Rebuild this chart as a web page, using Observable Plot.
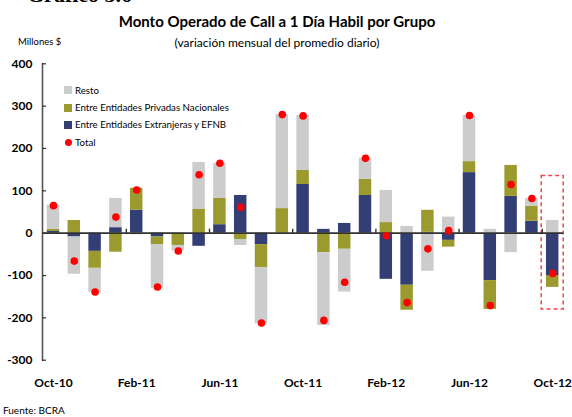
<!DOCTYPE html>
<html>
<head>
<meta charset="utf-8">
<script src="https://cdn.jsdelivr.net/npm/d3@7"></script>
<script src="https://cdn.jsdelivr.net/npm/@observablehq/plot@0.6"></script>
<style>
  html, body { margin: 0; padding: 0; background: #fff; }
  #wrap { position: relative; width: 572px; height: 417px; overflow: hidden; font-family: Lato, "Open Sans", sans-serif; color: #000; }
  #wrap svg { position: absolute; left: 0; top: 0; }
  .abs { position: absolute; white-space: nowrap; line-height: 1; }
  .leg { position: absolute; left: 64px; font-size: 9.7px; }
  .leg span.sw { display: inline-block; width: 8px; height: 8px; margin-right: 3px; vertical-align: -0.5px; }
  .leg span.dt { display: inline-block; width: 7px; height: 7px; border-radius: 50%; background: #ff0000; margin-right: 3px; margin-left: 1px; vertical-align: 0px; }
</style>
</head>
<body>
<div id="wrap">
  <div class="abs" style="left:27px; top:-16px; font-family:'Liberation Serif', serif; font-weight:bold; font-size:22px;">Gráfico 3.6</div>
  <div class="abs" style="left:0; width:554px; text-align:center; top:14px; font-weight:bold; font-size:15px;">Monto Operado de Call a 1 Día Habil por Grupo</div>
  <div class="abs" style="left:0; width:554px; text-align:center; top:37px; font-size:12px;">(variación mensual del promedio diario)</div>
  <div class="abs" style="left:18px; top:37px; font-size:9.5px;">Millones $</div>
  <div class="abs" style="left:3px; top:405px; font-size:10px;">Fuente: BCRA</div>
  <div class="leg" style="top:83.5px;"><span class="sw" style="background:#cccccc"></span>Resto</div>
  <div class="leg" style="top:101px;"><span class="sw" style="background:#9a9a2e"></span>Entre Entidades Privadas Nacionales</div>
  <div class="leg" style="top:118px;"><span class="sw" style="background:#333f74"></span>Entre Entidades Extranjeras y EFNB</div>
  <div class="leg" style="top:135.5px;"><span class="dt"></span>Total</div>
</div>
<script>
const months = ["Oct-10","Nov-10","Dec-10","Jan-11","Feb-11","Mar-11","Apr-11","May-11","Jun-11","Jul-11","Aug-11","Sep-11",
  "Oct-11","Nov-11","Dec-11","Jan-12","Feb-12","Mar-12","Apr-12","May-12","Jun-12","Jul-12","Aug-12","Sep-12","Oct-12"];
const extranjeras = [4, -9, -43, 13, 54, -9, 0, -31, 20, 89, -27, 0, 115, 9, 23, 89, -109, -123, 2, -17, 143, -112, 87, 28, -100];
const privadas    = [5, 30, -40, -45, 52, -18, -29, 56, 62, -15, -54, 58, 33, -46, -38, 38, 25, -59, 52, -16, 26, -68, 73, 36, -28];
const resto       = [57, -88, -57, 69, -4, -103, -13, 111, 83, -14, -133, 222, 130, -172, -101, 50, 76, 16, -90, 38, 109, 9, -46, 18, 30];
const total       = [65, -66, -139, 38, 102, -127, -42, 138, 165, 61, -212, 280, 277, -206, -116, 177, -6, -164, -37, 6, 278, -171, 115, 82, -95];
const xLabels = ["Oct-10","Feb-11","Jun-11","Oct-11","Feb-12","Jun-12","Oct-12"];
const yTicks = [-300, -200, -100, 0, 100, 200, 300, 400];
const highlight = ["Oct-12"];
const highlightRange = [-180, 135];

const seriesNames = ["Entre Entidades Extranjeras y EFNB", "Entre Entidades Privadas Nacionales", "Resto"];
const seriesColors = ["#333f74", "#9a9a2e", "#cccccc"];
const seriesValues = [extranjeras, privadas, resto];

const rows = [];
months.forEach((m, i) => {
  seriesNames.forEach((s, k) => rows.push({month: m, serie: s, value: seriesValues[k][i]}));
});
const totals = months.map((m, i) => ({month: m, value: total[i]}));

const W = 572, H = 417;
const mL = 42, mR = 8.8, mT = 63.3, mB = 57.3;
const pIn = 0.4, pOut = 0.229;
const step = (W - mL - mR) / (months.length - pIn + 2 * pOut);
const bw = step * (1 - pIn);
const pxPerUnit = (H - mT - mB) / 700;

const plot = Plot.plot({
  width: W, height: H,
  marginLeft: mL, marginRight: mR, marginTop: mT, marginBottom: mB,
  style: {fontFamily: "Lato, 'Open Sans', sans-serif", background: "transparent", overflow: "visible"},
  x: {domain: months, paddingInner: pIn, paddingOuter: pOut, align: 0.5, round: false, label: null},
  y: {domain: [-300, 400], label: null},
  color: {domain: seriesNames, range: seriesColors},
  marks: [
    Plot.barY(rows, Plot.stackY({x: "month", y: "value", fill: "serie", z: "serie", order: seriesNames})),
    Plot.barY(highlight, {x: d => d, y1: () => highlightRange[0], y2: () => highlightRange[1], fill: "none",
      stroke: "#f0474f", strokeWidth: 1.5, strokeDasharray: "4,3", insetLeft: -(22 - bw) / 2, insetRight: -(22 - bw) / 2}),
    Plot.ruleY([0], {stroke: "#333", strokeWidth: 1.6}),
    Plot.ruleX(xLabels.slice(1), {x: d => d, y1: 0, y2: 4 / pxPerUnit, dx: -step / 2, stroke: "#222", strokeWidth: 1.3}),
    Plot.frame({anchor: "left", stroke: "#555", strokeWidth: 1.6}),
    Plot.tickY(yTicks, {y: d => d, stroke: "#333", strokeWidth: 1.2, insetRight: (W - mL - mR) - 4}),
    Plot.dot(totals, {x: "month", y: "value", r: 3.8, fill: "#ff0000", stroke: "none"}),
    Plot.axisY({ticks: yTicks, tickSize: 0, tickPadding: 10, fontSize: 12, fontWeight: "bold", tickFormat: d => String(d)}),
    Plot.axisX({ticks: xLabels, tickSize: 0, tickPadding: 18, fontSize: 12, fontWeight: "bold"})
  ]
});
document.getElementById("wrap").prepend(plot);
</script>
</body>
</html>
